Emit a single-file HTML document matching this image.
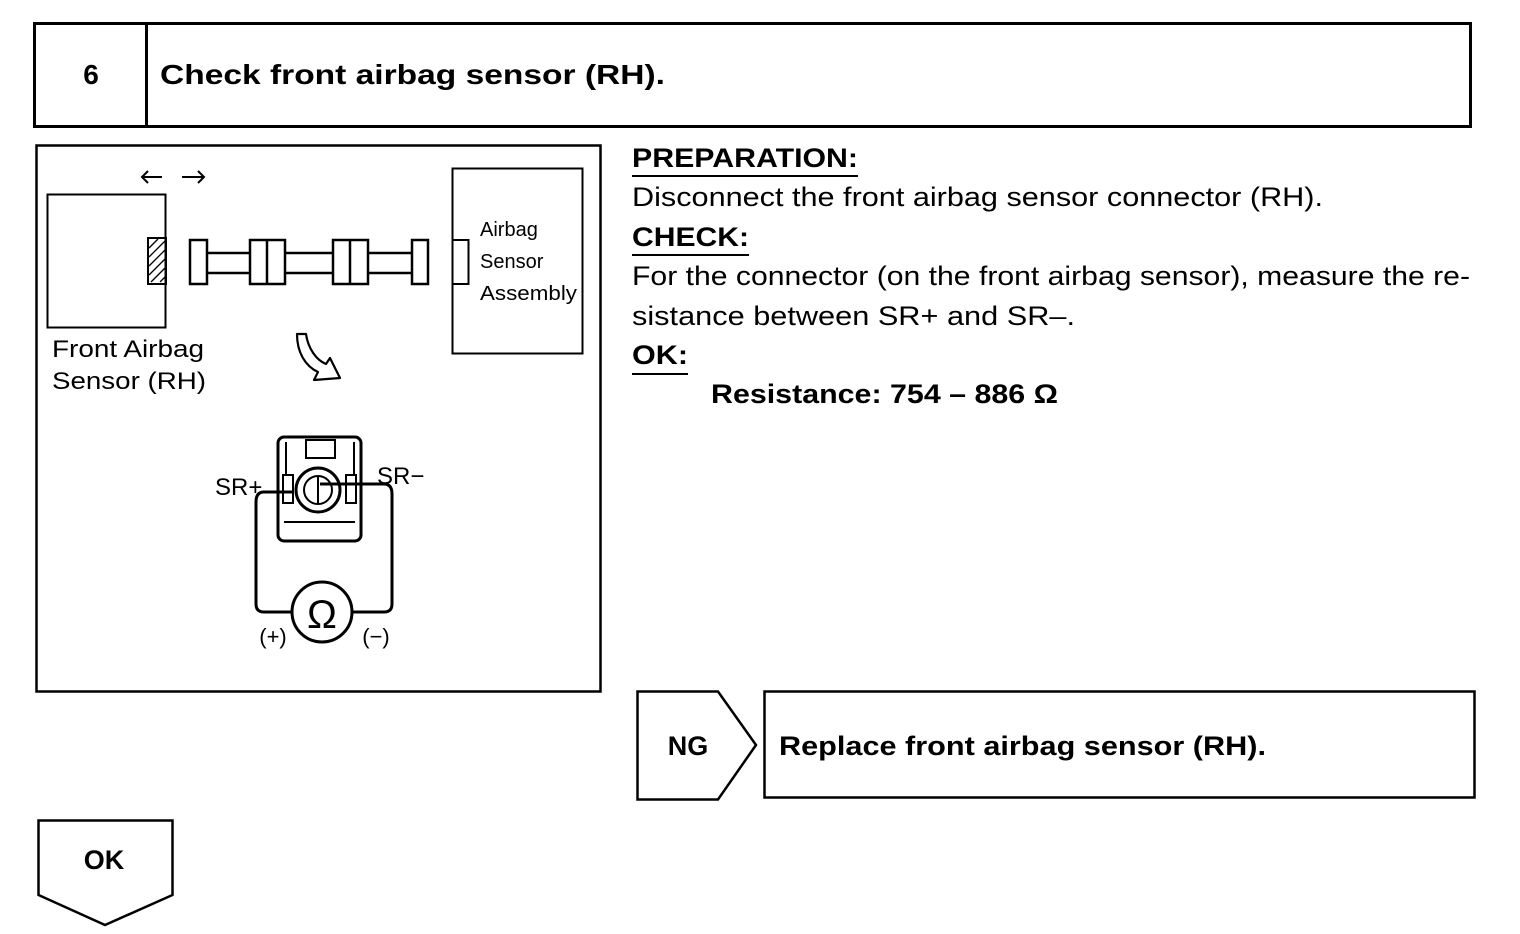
<!DOCTYPE html>
<html><head><meta charset="utf-8"><style>
html,body{margin:0;padding:0;background:#fff;}
svg{display:block;}
text{font-family:"Liberation Sans",Arial,sans-serif;fill:#000;}
.b{font-weight:bold;}
</style></head><body>
<svg width="1520" height="934" viewBox="0 0 1520 934" xmlns="http://www.w3.org/2000/svg">
<g fill="none" stroke="#000">
<!-- header -->
<rect x="34.5" y="23.5" width="1436" height="103" stroke-width="3"/>
<line x1="146.5" y1="23" x2="146.5" y2="127" stroke-width="3"/>
<!-- diagram frame -->
<rect x="36.5" y="145.5" width="564" height="546" stroke-width="2.5"/>
<!-- NG -->
<path d="M637.5,691.5 H718 L756,745 L718,799.5 H637.5 Z" stroke-width="2.5"/>
<rect x="764.5" y="691.5" width="710" height="106" stroke-width="2.5"/>
<!-- OK -->
<path d="M38.5,820.5 H172.5 V895 L105,925 L38.5,895 Z" stroke-width="2.5"/>
<!-- sensor box -->
<rect x="47.5" y="194.5" width="118" height="133" stroke-width="2"/>
<rect x="148" y="238" width="18" height="46" stroke-width="2"/>
<g stroke-width="1.3">
<line x1="149" y1="248" x2="158" y2="239"/><line x1="149" y1="257" x2="165" y2="241"/>
<line x1="149" y1="266" x2="165" y2="250"/><line x1="149" y1="275" x2="165" y2="259"/>
<line x1="151" y1="282" x2="165" y2="268"/><line x1="160" y1="282" x2="165" y2="277"/>
</g>
<!-- arrows -->
<path d="M142,177 H162 M148,171 L142,177 L148,183" stroke-width="2"/>
<path d="M182,177 H204 M198,171 L204,177 L198,183" stroke-width="2"/>
<!-- harness -->
<g stroke-width="2.5">
<rect x="190" y="240" width="17" height="44"/>
<line x1="207" y1="253" x2="250" y2="253"/><line x1="207" y1="273" x2="250" y2="273"/>
<rect x="250" y="240" width="35" height="44"/><line x1="267" y1="240" x2="267" y2="284"/>
<line x1="285" y1="253" x2="333" y2="253"/><line x1="285" y1="273" x2="333" y2="273"/>
<rect x="333" y="240" width="35" height="44"/><line x1="350" y1="240" x2="350" y2="284"/>
<line x1="368" y1="253" x2="412" y2="253"/><line x1="368" y1="273" x2="412" y2="273"/>
<rect x="412" y="240" width="16" height="44"/>
</g>
<!-- assembly -->
<rect x="452.5" y="168.5" width="130" height="185" stroke-width="2"/>
<rect x="452.5" y="240" width="16" height="44" stroke-width="2"/>
<!-- curved arrow -->
<path d="M297,334 C297,352 305,366 318,372 L314,380 L340,378 L330,358 L326,364 C316,360 308,348 306,334 Z" stroke-width="2.2" stroke-linejoin="round"/>
<!-- connector face -->
<rect x="278" y="437" width="83" height="104" rx="6" stroke-width="3"/>
<rect x="306" y="440" width="29" height="18" stroke-width="2"/>
<path d="M286,442 V475 M354,442 V475 M284,522 H355" stroke-width="2"/>
<rect x="283" y="475" width="10" height="28" stroke-width="2"/>
<rect x="346" y="475" width="10" height="28" stroke-width="2"/>
<circle cx="318" cy="490" r="22" stroke-width="3"/>
<circle cx="318" cy="490" r="14" stroke-width="2"/>
<line x1="318" y1="476" x2="318" y2="504" stroke-width="2"/>
<!-- loop -->
<path d="M292,492 H264 Q256,492 256,502 V604 Q256,612 264,612 H292" stroke-width="3"/>
<path d="M320,484 H384 Q392,484 392,494 V604 Q392,612 384,612 H352" stroke-width="3"/>
<circle cx="322" cy="612" r="30" stroke-width="3"/>
</g>
<text x="322" y="628" font-size="40" text-anchor="middle">Ω</text>
<text x="273" y="644" font-size="22" text-anchor="middle">(+)</text>
<text x="376" y="644" font-size="22" text-anchor="middle">(−)</text>
<text x="215" y="495" font-size="24">SR+</text>
<text x="377" y="484" font-size="24">SR−</text>
<text x="480" y="236" font-size="20">Airbag</text>
<text x="480" y="268" font-size="20">Sensor</text>
<text x="480" y="300" font-size="20" textLength="97" lengthAdjust="spacingAndGlyphs">Assembly</text>
<text x="52" y="357" font-size="24" textLength="152" lengthAdjust="spacingAndGlyphs">Front Airbag</text>
<text x="52" y="389" font-size="24" textLength="154" lengthAdjust="spacingAndGlyphs">Sensor (RH)</text>

<text x="91" y="84" font-size="28" class="b" text-anchor="middle">6</text>
<text x="160" y="84" font-size="28" class="b" textLength="505" lengthAdjust="spacingAndGlyphs">Check front airbag sensor (RH).</text>

<text x="632" y="167" font-size="27" class="b" textLength="226" lengthAdjust="spacingAndGlyphs">PREPARATION:</text>
<line x1="632" y1="176" x2="858" y2="176" stroke="#000" stroke-width="2"/>
<text x="632" y="206" font-size="27" textLength="691" lengthAdjust="spacingAndGlyphs">Disconnect the front airbag sensor connector (RH).</text>
<text x="632" y="246" font-size="27" class="b" textLength="117" lengthAdjust="spacingAndGlyphs">CHECK:</text>
<line x1="632" y1="255" x2="749" y2="255" stroke="#000" stroke-width="2"/>
<text x="632" y="285" font-size="27" textLength="838" lengthAdjust="spacingAndGlyphs">For the connector (on the front airbag sensor), measure the re-</text>
<text x="632" y="325" font-size="27" textLength="443" lengthAdjust="spacingAndGlyphs">sistance between SR+ and SR–.</text>
<text x="632" y="364" font-size="27" class="b" textLength="56" lengthAdjust="spacingAndGlyphs">OK:</text>
<line x1="632" y1="374" x2="688" y2="374" stroke="#000" stroke-width="2"/>
<text x="711" y="403" font-size="27" class="b" textLength="347" lengthAdjust="spacingAndGlyphs">Resistance: 754 – 886 Ω</text>

<text x="688" y="755" font-size="27" class="b" text-anchor="middle">NG</text>
<text x="779" y="755" font-size="27" class="b" textLength="487" lengthAdjust="spacingAndGlyphs">Replace front airbag sensor (RH).</text>
<text x="104" y="869" font-size="27" class="b" text-anchor="middle">OK</text>
</svg>
</body></html>
